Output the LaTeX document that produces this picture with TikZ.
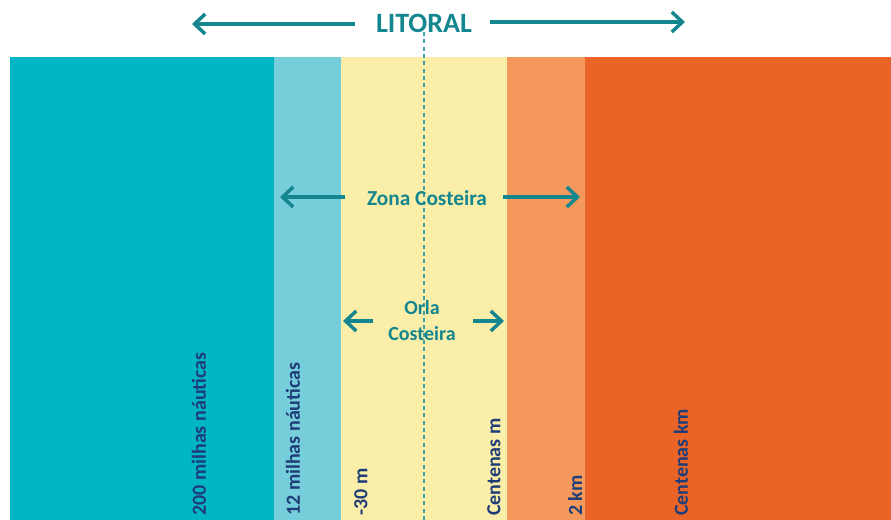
\documentclass[tikz,border=0pt]{standalone}
\usepackage{fontspec}
\setmainfont{Carlito}
\usetikzlibrary{arrows.meta}

\definecolor{mar}{HTML}{00B5C6}
\definecolor{marclaro}{HTML}{77CEDB}
\definecolor{areia}{HTML}{FBEEA8}
\definecolor{laranjaclaro}{HTML}{F4995B}
\definecolor{laranja}{HTML}{EA6428}
\definecolor{petroleo}{HTML}{14868F}
\definecolor{marinho}{HTML}{1E3D78}

\tikzset{
  seta/.style={draw=petroleo, line width=2.6pt, -{Straight Barb[length=8pt, width=15pt, line width=2.6pt]}},
  zona/.style={text=petroleo, font=\bfseries},
  medida/.style={text=marinho, font=\bfseries\fontsize{15}{18}\selectfont, rotate=90, anchor=west, inner sep=0pt}
}

\begin{document}
\begin{tikzpicture}[x=0.75pt, y=-0.75pt]
\useasboundingbox (0,0) rectangle (891,520);
% faixas
\fill[mar] (10,57) rectangle (274,520);
\fill[marclaro] (274,57) rectangle (341,520);
\fill[areia] (341,57) rectangle (507,520);
\fill[laranjaclaro] (507,57) rectangle (585,520);
\fill[laranja] (585,57) rectangle (891,520);
\draw[petroleo!80, line width=0.9pt, dash pattern=on 3pt off 2.5pt] (424,32) -- (424,520);

% litoral
\node[zona, font=\bfseries\fontsize{21}{25}\selectfont] (litoral) at (424,23) {LITORAL};
\coordinate (litE) at (192,24);
\coordinate (litD) at (685,22);
\draw[seta] (355,24) -- (litE);
\draw[seta] (490,22) -- (litD);

% zona costeira
\node[zona, font=\bfseries\fontsize{16}{19}\selectfont] (zona) at (427,198) {Zona Costeira};
\coordinate (zonaE) at (280,197);
\coordinate (zonaD) at (580,197);
\draw[seta] (345,197) -- (zonaE);
\draw[seta] (503,197) -- (zonaD);

% orla costeira
\node[zona, font=\bfseries\fontsize{15}{19.5}\selectfont, align=center] (orla) at (422,321) {Orla\\Costeira};
\coordinate (orlaE) at (343,321);
\coordinate (orlaD) at (504,321);
\draw[seta] (373,321) -- (orlaE);
\draw[seta] (473,321) -- (orlaD);

% medidas
\node[medida] (m200) at (199,516) {200 milhas náuticas};
\node[medida] (m12) at (293,516) {12 milhas náuticas};
\node[medida] (m30) at (361,516) {-30 m};
\node[medida] (mcm) at (494,516) {Centenas m};
\node[medida] (m2k) at (575,516) {2 km};
\node[medida] (mck) at (681,516) {Centenas km};
\end{tikzpicture}
\end{document}
